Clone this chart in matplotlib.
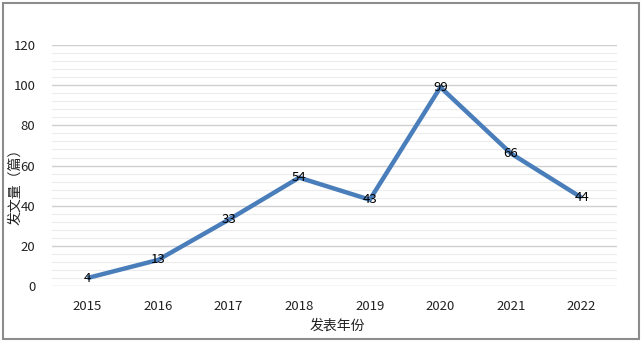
import matplotlib
matplotlib.use('Agg')
import matplotlib.pyplot as plt
from matplotlib.patches import Rectangle

years = ['2015', '2016', '2017', '2018', '2019', '2020', '2021', '2022']
counts = [4, 13, 33, 54, 43, 99, 66, 44]

plt.rcParams['font.family'] = ['Noto Sans CJK SC', 'DejaVu Sans']

fig = plt.figure(figsize=(6.42, 3.41), dpi=100)
ax = fig.add_axes([0.081, 0.161, 0.880, 0.707])

x = list(range(len(years)))
ax.plot(x, counts, color='#4a7ebb', linewidth=3.2, solid_capstyle='butt', zorder=3)
for xi, v in zip(x, counts):
    ax.text(xi, v, str(v), ha='center', va='center', fontsize=9.5, color='black', zorder=4)

ax.set_xlim(-0.5, len(years) - 0.5)
ax.set_ylim(0, 120)
ax.set_yticks(range(0, 121, 20))
ax.set_yticks(range(0, 121, 4), minor=True)
ax.set_xticks(x)
ax.set_xticklabels(years)
ax.tick_params(axis='both', which='both', length=0, labelsize=9.5, colors='#222222')
ax.tick_params(axis='y', pad=12)
ax.tick_params(axis='x', pad=10)
ax.grid(axis='y', which='major', color='#d0d0d0', linewidth=1.0, zorder=0)
ax.grid(axis='y', which='minor', color='#ececec', linewidth=0.8, zorder=0)
ax.set_axisbelow(True)
for s in ax.spines.values():
    s.set_visible(False)

# axis titles placed by hand, like the Excel original
fig.text(15 / 642, 1 - 183 / 341, '发文量（篇）', rotation=90, ha='center', va='center',
         fontsize=10, color='#222222')
fig.text(337 / 642, 1 - 326 / 341, '发表年份', ha='center', va='center',
         fontsize=10, color='#222222')

fig.patches.append(Rectangle((0.004, 0.006), 0.991, 0.986, transform=fig.transFigure,
                             fill=False, edgecolor='#8c8c8c', linewidth=1.5))

fig.savefig('out.png', dpi=100)
